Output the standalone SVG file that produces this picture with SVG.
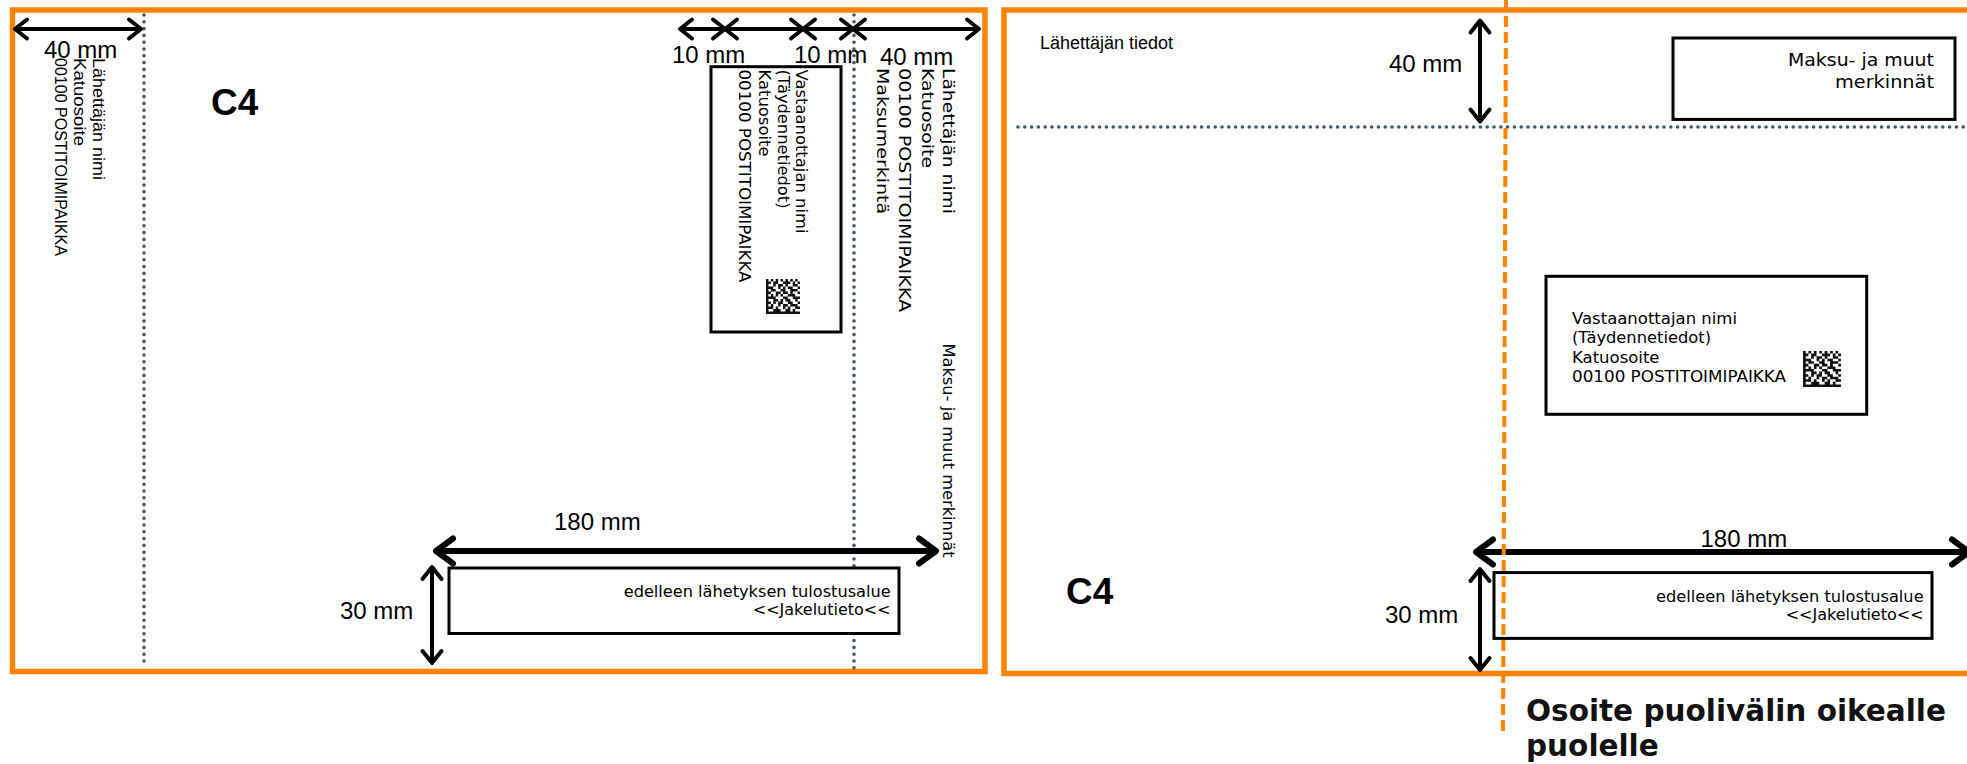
<svg xmlns="http://www.w3.org/2000/svg" xmlns:xlink="http://www.w3.org/1999/xlink" width="1967" height="764" viewBox="0 0 1967 764">
<style>
.env{fill:#fff;stroke:#FF8300;stroke-width:5.5}
.box{fill:#fff;stroke:#000;stroke-width:3}
.dot{stroke:#44546A;stroke-width:3.6;stroke-dasharray:0 6.8;stroke-linecap:round;fill:none}
.dash{stroke:#FF8300;stroke-width:4;stroke-dasharray:11 5;fill:none}
.dim{font-family:"Liberation Sans",Arial,sans-serif;font-size:24px;fill:#000}
.ar{font-family:"Liberation Sans",Arial,sans-serif;fill:#000}
.geo{font-family:"DejaVu Sans",Verdana,sans-serif;font-size:16px;fill:#000}
.geoL{font-family:"DejaVu Sans",Verdana,sans-serif;font-size:18.5px;fill:#000}
.c4{font-family:"Liberation Sans",Arial,sans-serif;font-size:37px;font-weight:bold;fill:#000}
.bold{font-family:"DejaVu Sans",Verdana,sans-serif;font-weight:bold;font-size:29.5px;fill:#111}
.arr{stroke:#000;stroke-width:4;fill:none;marker-start:url(#ah);marker-end:url(#ah)}
.arrL{stroke:#000;stroke-width:6;fill:none;marker-start:url(#ahL);marker-end:url(#ahL)}
.qr{fill:#111}
</style>
<defs>
<marker id="ah" markerUnits="userSpaceOnUse" markerWidth="30" markerHeight="30" refX="0" refY="0" orient="auto-start-reverse" overflow="visible">
<path d="M-12,-9.5 L0,0 L-12,9.5" fill="none" stroke="#000" stroke-width="4" stroke-linecap="round" stroke-linejoin="round"/>
</marker>
<marker id="ahL" markerUnits="userSpaceOnUse" markerWidth="40" markerHeight="40" refX="0" refY="0" orient="auto-start-reverse" overflow="visible">
<path d="M-17,-12.5 L0,0 L-17,12.5" fill="none" stroke="#000" stroke-width="6" stroke-linecap="round" stroke-linejoin="round"/>
</marker>
<g id="qrcode">
<path class="qr" d="M0,0h1v1h-1zM2,0h1v1h-1zM4,0h1v1h-1zM6,0h1v1h-1zM8,0h1v1h-1zM10,0h1v1h-1zM12,0h1v1h-1z
M0,1h2v1h-2zM3,1h2v1h-2zM7,1h3v1h-3zM11,1h1v1h-1zM13,1h1v1h-1z
M0,2h1v1h-1zM3,2h1v1h-1zM5,2h2v1h-2zM8,2h1v1h-1zM11,2h2v1h-2z
M0,3h3v1h-3zM5,3h1v1h-1zM7,3h1v1h-1zM9,3h2v1h-2zM13,3h1v1h-1z
M0,4h1v1h-1zM2,4h2v1h-2zM6,4h2v1h-2zM10,4h3v1h-3z
M0,5h2v1h-2zM4,5h2v1h-2zM7,5h2v1h-2zM10,5h1v1h-1zM13,5h1v1h-1z
M0,6h1v1h-1zM2,6h1v1h-1zM4,6h1v1h-1zM6,6h1v1h-1zM9,6h3v1h-3z
M0,7h4v1h-4zM7,7h2v1h-2zM11,7h3v1h-3z
M0,8h1v1h-1zM3,8h2v1h-2zM6,8h1v1h-1zM8,8h2v1h-2zM12,8h1v1h-1z
M0,9h2v1h-2zM3,9h1v1h-1zM5,9h2v1h-2zM9,9h2v1h-2zM13,9h1v1h-1z
M0,10h1v1h-1zM2,10h1v1h-1zM5,10h1v1h-1zM7,10h2v1h-2zM10,10h3v1h-3z
M0,11h3v1h-3zM4,11h1v1h-1zM7,11h1v1h-1zM9,11h1v1h-1zM12,11h2v1h-2z
M0,12h1v1h-1zM3,12h3v1h-3zM8,12h2v1h-2zM11,12h1v1h-1z
M0,13h14v1h-14z"/>
</g>
</defs>
<rect x="0" y="0" width="1967" height="764" fill="#fff"/>

<g id="envelope-left">
<rect class="env" x="12.5" y="10" width="972.5" height="661.5"/>
<text class="c4" x="211" y="114.5">C4</text>
</g>

<g id="envelope-right">
<rect class="env" x="1004" y="10" width="990" height="663.5"/>
<text class="ar" x="1040" y="49" font-size="18">Lähettäjän tiedot</text>
<text class="c4" x="1066" y="604.3">C4</text>
</g>

<g id="guides">
<line class="dot" x1="144" y1="15" x2="144" y2="665"/>
<line class="dot" x1="854" y1="15" x2="854" y2="668"/>
<line class="dot" x1="1018" y1="127" x2="1967" y2="127"/>
</g>

<g id="sender-left">
<text class="ar" font-size="16.5" transform="translate(92.5,58) rotate(90)" textLength="122" lengthAdjust="spacingAndGlyphs">Lähettäjän nimi</text>
<text class="ar" font-size="16.5" transform="translate(73.5,58) rotate(90)" textLength="88" lengthAdjust="spacingAndGlyphs">Katuosoite</text>
<text class="ar" font-size="16.5" transform="translate(54.5,58) rotate(90)" textLength="198" lengthAdjust="spacingAndGlyphs">00100 POSTITOIMIPAIKKA</text>
</g>

<g id="sender-right">
<text class="geo" transform="translate(943,68) rotate(90)" textLength="146" lengthAdjust="spacingAndGlyphs">Lähettäjän nimi</text>
<text class="geo" transform="translate(921.5,68) rotate(90)" textLength="100" lengthAdjust="spacingAndGlyphs">Katuosoite</text>
<text class="geo" transform="translate(899.3,68) rotate(90)" textLength="244" lengthAdjust="spacingAndGlyphs">00100 POSTITOIMIPAIKKA</text>
<text class="geo" transform="translate(877.3,68) rotate(90)" textLength="146" lengthAdjust="spacingAndGlyphs">Maksumerkintä</text>
</g>

<g id="maksu-left">
<text class="geo" transform="translate(943,343.5) rotate(90)" textLength="214" lengthAdjust="spacingAndGlyphs">Maksu- ja muut merkinnät</text>
</g>

<g id="address-left">
<rect class="box" x="711" y="66.7" width="130" height="265.3"/>
<text class="geo" transform="translate(796,69.5) rotate(90)" textLength="164" lengthAdjust="spacingAndGlyphs">Vastaanottajan nimi</text>
<text class="geo" transform="translate(777.5,69.5) rotate(90)" textLength="139" lengthAdjust="spacingAndGlyphs">(Täydennetiedot)</text>
<text class="geo" transform="translate(758.5,69.5) rotate(90)" textLength="87" lengthAdjust="spacingAndGlyphs">Katuosoite</text>
<text class="geo" transform="translate(739,69.5) rotate(90)" textLength="213" lengthAdjust="spacingAndGlyphs">00100 POSTITOIMIPAIKKA</text>
<use xlink:href="#qrcode" href="#qrcode" transform="translate(766,279) scale(2.43,2.5)"/>
</g>

<g id="print-left">
<rect class="box" x="449" y="568" width="450" height="65.5"/>
<text class="geo" x="890.7" y="597" text-anchor="end" textLength="267" lengthAdjust="spacingAndGlyphs">edelleen lähetyksen tulostusalue</text>
<text class="geo" x="890.7" y="615" text-anchor="end">&lt;&lt;Jakelutieto&lt;&lt;</text>
</g>

<g id="maksu-right">
<rect class="box" x="1673" y="38" width="282" height="81.4"/>
<text class="geoL" x="1934" y="65.8" text-anchor="end" textLength="146" lengthAdjust="spacingAndGlyphs">Maksu- ja muut</text>
<text class="geoL" x="1934" y="87.7" text-anchor="end" textLength="99" lengthAdjust="spacingAndGlyphs">merkinnät</text>
</g>

<g id="address-right">
<rect class="box" x="1546" y="276.3" width="320.7" height="138"/>
<text class="geo" x="1572" y="324" textLength="165" lengthAdjust="spacingAndGlyphs">Vastaanottajan nimi</text>
<text class="geo" x="1572" y="343" textLength="139" lengthAdjust="spacingAndGlyphs">(Täydennetiedot)</text>
<text class="geo" x="1572" y="362.5" textLength="87.5" lengthAdjust="spacingAndGlyphs">Katuosoite</text>
<text class="geo" x="1572" y="381.5" textLength="214" lengthAdjust="spacingAndGlyphs">00100 POSTITOIMIPAIKKA</text>
<use xlink:href="#qrcode" href="#qrcode" transform="translate(1803,351) scale(2.71,2.57)"/>
</g>

<g id="print-right">
<rect class="box" x="1494" y="572.6" width="438" height="65.8"/>
<text class="geo" x="1923.6" y="601.8" text-anchor="end" textLength="267.5" lengthAdjust="spacingAndGlyphs">edelleen lähetyksen tulostusalue</text>
<text class="geo" x="1923.6" y="620" text-anchor="end">&lt;&lt;Jakelutieto&lt;&lt;</text>
</g>

<g id="connectors">
<line class="arr" x1="15" y1="29" x2="141" y2="29"/>
<line class="arr" x1="680" y1="29" x2="725" y2="29"/>
<line class="arr" x1="725" y1="29" x2="803" y2="29"/>
<line class="arr" x1="803" y1="29" x2="853" y2="29"/>
<line class="arr" x1="853" y1="29" x2="979" y2="29"/>
<line class="arrL" x1="436" y1="551" x2="936" y2="551"/>
<line class="arr" x1="432" y1="567" x2="432" y2="663"/>
<line class="arr" x1="1480" y1="20.5" x2="1480" y2="121.5"/>
<line class="arrL" x1="1476" y1="552" x2="1969" y2="552"/>
<line class="arr" x1="1480" y1="569" x2="1480" y2="670"/>
</g>

<g id="dimension-labels">
<text class="dim" x="44" y="58">40 mm</text>
<text class="dim" x="672" y="63">10 mm</text>
<text class="dim" x="794" y="63">10 mm</text>
<text class="dim" x="880" y="65">40 mm</text>
<text class="dim" x="554" y="530">180 mm</text>
<text class="dim" x="340" y="619">30 mm</text>
<text class="dim" x="1389" y="71.7">40 mm</text>
<text class="dim" x="1700.5" y="546.5">180 mm</text>
<text class="dim" x="1385" y="622.8">30 mm</text>
</g>

<g id="midline">
<line class="dash" x1="1506" y1="0" x2="1503" y2="736"/>
<text class="bold" x="1526" y="721">Osoite puolivälin oikealle</text>
<text class="bold" x="1526" y="756">puolelle</text>
</g>
</svg>
